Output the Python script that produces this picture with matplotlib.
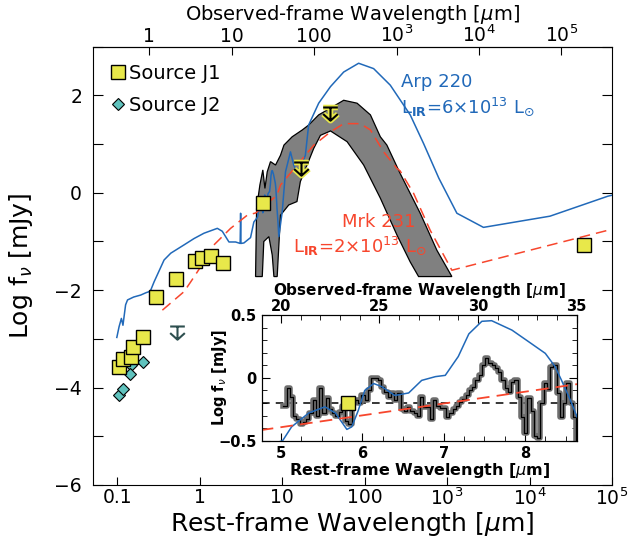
import numpy as np
import matplotlib
matplotlib.use("Agg")
import matplotlib.pyplot as plt
from matplotlib.path import Path
from matplotlib.ticker import FixedLocator, NullLocator, MultipleLocator, FuncFormatter

# ---- data (rest-frame wavelength in micron, log flux density in mJy) ----
zfac = 4.1  # 1 + z
rest_ticks = [0.1, 1, 10, 100, 1e3, 1e4, 1e5]
obs_ticks = [1, 10, 100, 1e3, 1e4, 1e5]

j1_wave = [0.105, 0.116, 0.146, 0.153, 0.202, 0.292, 0.521, 0.867, 1.074,
           1.355, 1.91, 5.82, 45700]
j1_flux = [-3.57, -3.42, -3.38, -3.16, -2.97, -2.14, -1.78, -1.40, -1.33,
           -1.30, -1.45, -0.20, -1.07]

j2_wave = [0.105, 0.117, 0.146, 0.143, 0.202]
j2_flux = [-4.15, -4.02, -3.54, -3.72, -3.47]

j1_lim_wave = [16.7, 37.7]
j1_lim_flux = [0.64, 1.77]
j2_lim_wave = [0.525]
j2_lim_flux = [-2.74]

arp220_wave = [0.0986, 0.105, 0.112, 0.117, 0.126, 0.133, 0.158, 0.192, 0.224,
               0.243, 0.254, 0.279, 0.369, 0.445, 0.644, 0.851, 1.125, 1.633,
               1.875, 2.26, 2.72, 3.09, 3.13, 3.16, 3.43, 4.13, 4.53, 5.02,
               5.13, 5.34, 5.54, 5.67, 5.81, 5.87, 5.95, 6.03, 6.14, 6.24,
               6.40, 6.57, 6.73, 6.90, 7.02, 7.18, 7.31, 7.47, 7.59, 7.84,
               8.04, 8.25, 8.37, 8.45, 8.56, 8.64, 8.9, 9.1, 10.0, 10.96,
               12.6, 13.8, 15.1, 17.0, 19.1, 20.9, 27.7, 38.5, 55.7, 84.5,
               128.5, 204.6, 357, 519, 794, 1315, 2761, 17700, 89100, 100000]
arp220_flux = [-2.97, -2.75, -2.58, -2.72, -2.30, -2.20, -2.14, -2.10, -2.05,
               -2.03, -2.00, -1.83, -1.38, -1.24, -1.07, -0.94, -0.83, -0.73,
               -0.79, -1.01, -1.01, -1.04, -0.42, -1.04, -1.03, -0.92, -0.60,
               -0.50, -0.39, -0.28, -0.23, -0.28, -0.41, -0.39, -0.26, -0.10,
               -0.045, -0.07, -0.14, -0.12, -0.02, 0.01, 0.02, 0.17, 0.35,
               0.45, 0.455, 0.38, 0.29, 0.195, 0.09, -0.02, -0.18, -0.31,
               -0.62, -0.90, -0.39, 0.43, 0.84, 0.57, 0.43, 0.55, 0.77, 1.39,
               1.84, 2.18, 2.48, 2.66, 2.55, 2.21, 1.60, 1.01, 0.30, -0.42,
               -0.71, -0.48, -0.07, -0.05]

mrk231_wave = [0.352, 0.644, 0.776, 1.026, 1.486, 2.366, 3.767, 4.76, 8.64,
               9.53, 15.2, 24.2, 38.5, 55.7, 88.7, 117.5, 170, 246.6, 269,
               392, 624, 1143, 89100, 100000]
mrk231_flux = [-2.41, -2.03, -1.83, -1.52, -1.07, -0.73, -0.46, -0.415, -0.05,
               0.16, 0.57, 0.98, 1.25, 1.42, 1.42, 1.29, 0.84, 0.50, 0.45,
               -0.01, -0.77, -1.59, -0.77, -0.75]

# template range (upper edge left->right, then lower edge right->left)
band_wave = [4.75, 4.89, 5.36, 5.82, 6.17, 6.58, 7.21, 8.3, 9.53, 10.5, 13.2,
             17.5, 20.9, 27.7, 35.1, 55.7, 80.9, 117.5, 155, 186, 269, 472,
             752, 1143,
             451, 357, 247, 155, 97.3, 61.2, 38.5, 29.1, 24.1, 20.0, 16.6,
             15.1, 12.0, 9.53, 8.69, 7.93, 7.57, 6.89, 5.98, 5.73]
band_flux = [-1.72, -0.32, 0.16, 0.47, 0.09, 0.43, 0.64, 0.57, 0.77, 0.98,
             1.15, 1.29, 1.39, 1.60, 1.70, 1.90, 1.84, 1.60, 1.15, 0.98, 0.40,
             -0.42, -1.18, -1.72,
             -1.72, -1.42, -0.87, -0.11, 0.57, 1.05, 1.27, 1.18, 0.91, 0.57,
             0.23, -0.18, -0.25, -0.46, -1.72, -1.72, -1.28, -0.90, -1.00,
             -1.72]

# IRS spectrum (bin start wavelengths, rest frame) for the inset
spec_wave = [5.03, 5.07, 5.11, 5.15, 5.19, 5.23, 5.27, 5.31, 5.35, 5.39, 5.43,
             5.47, 5.51, 5.55, 5.59, 5.63, 5.67, 5.71, 5.75, 5.79, 5.83, 5.87,
             5.91, 5.95, 5.99, 6.03, 6.07, 6.11, 6.15, 6.19, 6.23, 6.27, 6.31,
             6.35, 6.39, 6.43, 6.47, 6.51, 6.55, 6.59, 6.63, 6.67, 6.71, 6.75,
             6.79, 6.83, 6.87, 6.91, 6.95, 6.99, 7.03, 7.07, 7.11, 7.15, 7.19,
             7.23, 7.27, 7.31, 7.35, 7.39, 7.43, 7.47, 7.51, 7.55, 7.59, 7.63,
             7.67, 7.71, 7.75, 7.79, 7.83, 7.87, 7.91, 7.95, 7.99, 8.03, 8.07,
             8.11, 8.15, 8.19, 8.23, 8.27, 8.31, 8.35, 8.39, 8.43, 8.47, 8.51,
             8.55, 8.59, 8.63]
spec_flux = [-0.22, -0.08, -0.15, -0.30, -0.33, -0.37, -0.35, -0.33, -0.28,
             -0.18, -0.30, -0.08, -0.28, -0.16, -0.25, -0.28, -0.30, -0.27,
             -0.22, -0.34, -0.37, -0.20, -0.18, -0.20, -0.14, -0.18, -0.10,
             0.00, 0.00, -0.02, -0.07, -0.11, -0.15, -0.12, -0.18, -0.12,
             -0.25, -0.26, -0.23, -0.26, -0.28, -0.30, -0.15, -0.23, -0.23,
             -0.33, -0.18, -0.22, -0.24, -0.24, -0.31, -0.28, -0.25, -0.22,
             -0.19, -0.17, -0.14, -0.10, -0.07, -0.02, 0.02, 0.10, 0.155,
             0.12, 0.10, 0.075, 0.05, -0.02, -0.08, -0.11, -0.03, -0.02,
             -0.15, -0.31, -0.44, -0.16, -0.26, -0.46, -0.48, -0.20, -0.04,
             -0.09, 0.09, 0.10, -0.12, -0.31, -0.20, -0.04, -0.20, -0.31,
             -0.50]
spec_end = 8.67
continuum_level = -0.2

c_blue = '#2169b9'
c_red = '#f7462d'
c_yellow = '#e8e84a'
c_cyan = '#5fc2bd'


def limit_marker():
    # T-bar with a down arrow, origin at the bar
    verts = [(-1, 0), (1, 0), (0, 0), (0, -1.8), (-1, -0.9), (0, -1.8), (1, -0.9)]
    codes = [Path.MOVETO, Path.LINETO, Path.MOVETO, Path.LINETO,
             Path.MOVETO, Path.LINETO, Path.LINETO]
    return Path(verts, codes)


def wave_fmt(v, pos):
    e = int(round(np.log10(v)))
    if -1 <= e <= 2:
        return '%g' % v
    return r'$10^{%d}$' % e


def minus_fmt(v, pos):
    return ('%g' % v).replace('-', '\u2212')


fig = plt.figure(figsize=(6.38, 5.52), dpi=100)
ax = fig.add_axes([0.145, 0.1214, 0.8142, 0.794])

ax.fill(band_wave, band_flux, facecolor='#808080', edgecolor='k', lw=0.9, zorder=2)
ax.plot(arp220_wave, arp220_flux, color=c_blue, lw=1.1, zorder=3)
ax.plot(mrk231_wave, mrk231_flux, color=c_red, lw=1.1, dashes=(7, 4), zorder=3)

ax.plot(j2_wave, j2_flux, 'D', ms=6.5, mfc=c_cyan, mec='k', mew=0.8, ls='none', zorder=4)
ax.plot(j1_wave, j1_flux, 's', ms=10.5, mfc=c_yellow, mec='k', mew=1.0, ls='none', zorder=5)

lm = limit_marker()
ax.plot(j1_lim_wave, j1_lim_flux, ls='none', marker=lm, ms=19, mfc='none',
        mec=c_yellow, mew=4, zorder=6)
ax.plot(j1_lim_wave, j1_lim_flux, ls='none', marker=lm, ms=19, mfc='none',
        mec='k', mew=1.5, zorder=7)
ax.plot(j2_lim_wave, j2_lim_flux, ls='none', marker=lm, ms=19, mfc='none',
        mec='#2e4f4f', mew=1.5, zorder=6)

ax.set_xscale('log')
ax.set_xlim(0.05, 1e5)
ax.set_ylim(-6, 3)
ax.xaxis.set_major_locator(FixedLocator(rest_ticks))
ax.xaxis.set_minor_locator(NullLocator())
ax.xaxis.set_major_formatter(FuncFormatter(wave_fmt))
ax.yaxis.set_major_locator(MultipleLocator(2))
ax.yaxis.set_minor_locator(MultipleLocator(1))
ax.tick_params(axis='both', which='both', direction='in', labelsize=13.5, top=False, right=True)
ax.tick_params(axis='x', length=6, pad=2)
ax.tick_params(axis='y', which='both', length=7.5, width=0.8, pad=7.5)
ax.set_xlabel(r'Rest-frame Wavelength [$\mu$m]', fontsize=18)
ax.xaxis.set_label_coords(0.5, -0.056)
ax.set_ylabel(r'Log f$_{\nu}$ [mJy]', fontsize=18)
ax.yaxis.set_label_coords(-0.11, 0.5)

top = ax.secondary_xaxis('top', functions=(lambda x: x * zfac, lambda x: x / zfac))
top.xaxis.set_major_locator(FixedLocator(obs_ticks))
top.xaxis.set_minor_locator(NullLocator())
top.xaxis.set_major_formatter(FuncFormatter(wave_fmt))
top.tick_params(direction='in', length=6, labelsize=13.5, pad=0.5)
top.set_xlabel(r'Observed-frame Wavelength [$\mu$m]', fontsize=14, labelpad=3)

ax.text(0.593, 0.907, 'Arp 220', color=c_blue, fontsize=13, transform=ax.transAxes)
ax.text(0.593, 0.848, r'L$_{\mathbf{IR}}$=6$\times$10$^{13}$ L$_{\odot}$', color=c_blue,
        fontsize=13, transform=ax.transAxes)
ax.text(0.48, 0.589, 'Mrk 231', color=c_red, fontsize=13, transform=ax.transAxes)
ax.text(0.3865, 0.532, r'L$_{\mathbf{IR}}$=2$\times$10$^{13}$ L$_{\odot}$', color=c_red,
        fontsize=13, transform=ax.transAxes)

h1, = ax.plot([], [], 's', ms=10.5, mfc=c_yellow, mec='k', mew=1.0, ls='none')
h2, = ax.plot([], [], 'D', ms=6.5, mfc=c_cyan, mec='k', mew=0.8, ls='none')
ax.legend([h1, h2], ['Source J1', 'Source J2'], loc='upper left', frameon=False,
          fontsize=14, handlelength=0.8, handletextpad=0.2, labelspacing=0.65,
          borderaxespad=0.5, borderpad=0.4)

# ---- inset: mid-IR spectrum ----
ax2 = fig.add_axes([0.4102, 0.2016, 0.4937, 0.2277])
spec_edges = spec_wave + [spec_end]
spec_vals = spec_flux + [spec_flux[-1]]
ax2.step(spec_edges, spec_vals, where='post', color='#6e6e6e', lw=4, zorder=2)
ax2.step(spec_edges, spec_vals, where='post', color='k', lw=0.9, zorder=3)
ax2.axhline(continuum_level, color='k', lw=1.1, dashes=(5, 4), zorder=1)
ax2.plot(arp220_wave, arp220_flux, color=c_blue, lw=1.1, zorder=4)
ax2.plot(mrk231_wave, mrk231_flux, color=c_red, lw=1.3, dashes=(7, 4), zorder=4)
ax2.plot(j1_wave, j1_flux, 's', ms=10, mfc=c_yellow, mec='k', mew=1.0, ls='none', zorder=5)

ax2.set_xlim(4.763, 8.636)
ax2.set_ylim(-0.5, 0.5)
ax2.xaxis.set_major_locator(MultipleLocator(1))
ax2.xaxis.set_minor_locator(MultipleLocator(0.25))
ax2.yaxis.set_major_locator(MultipleLocator(0.5))
ax2.yaxis.set_minor_locator(MultipleLocator(0.1))
ax2.yaxis.set_major_formatter(FuncFormatter(minus_fmt))
ax2.tick_params(which='both', direction='in', top=False, right=True, labelsize=10.5)
ax2.tick_params(which='major', length=6)
ax2.tick_params(which='minor', length=3.5)
for lab in ax2.get_xticklabels() + ax2.get_yticklabels():
    lab.set_fontweight('bold')
ax2.set_xlabel(r'Rest-frame Wavelength [$\mu$m]', fontsize=11.5, fontweight='bold', labelpad=0)
ax2.set_ylabel(r'Log f$_{\nu}$ [mJy]', fontsize=10.5, fontweight='bold')
ax2.yaxis.set_label_coords(-0.105, 0.5)

ax3 = ax2.twiny()
ax3.set_xlim(19.03, 35.0)
ax3.xaxis.set_major_locator(MultipleLocator(5))
ax3.xaxis.set_minor_locator(MultipleLocator(1))
ax3.tick_params(which='both', direction='in', labelsize=10.5, pad=0.5)
ax3.tick_params(which='major', length=6)
ax3.tick_params(which='minor', length=3.5)
for lab in ax3.get_xticklabels():
    lab.set_fontweight('bold')
ax3.set_xlabel(r'Observed-frame Wavelength [$\mu$m]', fontsize=11, fontweight='bold', labelpad=3)

fig.savefig('out.png', dpi=100)
